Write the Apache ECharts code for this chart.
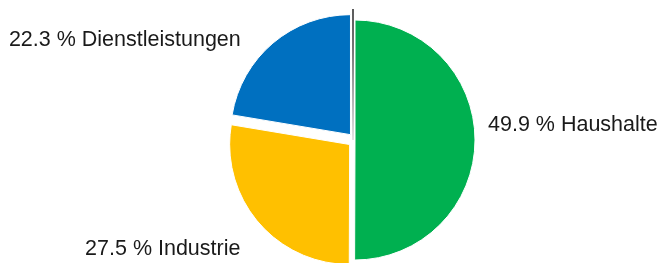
<!DOCTYPE html>
<html>
<head>
<meta charset="utf-8">
<script src="https://cdn.jsdelivr.net/npm/echarts@6/dist/echarts.min.js"></script>
<style>html,body{margin:0;padding:0;background:#fff}#c{width:661px;height:263px}</style>
</head>
<body>
<div id="c"></div>
<script>
const categories = ['Haushalte', 'Industrie', 'Dienstleistungen'];
const values = [49.9, 27.5, 22.3];
const colors = ['#00B050', '#FFC000', '#0070C0'];
const exploded = [false, true, true];
// label layout tuning per slice (line lengths, nudges)
const labelLen = [4, 36, 8];
const labelLen2 = [9, 12, 22];
const labelDx = [0, 22, -5];
const labelDy = [-15, 4, 3];

const chart = echarts.init(document.getElementById('c'), null, {renderer: 'canvas'});
const data = categories.map((name, i) => ({
  name: name,
  value: values[i],
  selected: exploded[i],
  itemStyle: {color: colors[i]},
  labelLine: {length: labelLen[i], length2: labelLen2[i]}
}));
chart.setOption({
  animation: false,
  series: [{
    type: 'pie',
    center: [355, 140],
    radius: [0, 120],
    startAngle: 90,
    clockwise: true,
    avoidLabelOverlap: false,
    selectedMode: 'multiple',
    selectedOffset: 7,
    itemStyle: {borderColor: '#fff', borderWidth: 1},
    select: {itemStyle: {borderColor: '#fff', borderWidth: 1}},
    emphasis: {disabled: true},
    label: {
      show: true,
      position: 'outside',
      formatter: p => p.value.toFixed(1) + ' % ' + p.name,
      fontFamily: 'Liberation Sans, Arial, sans-serif',
      fontSize: 21.5,
      color: '#1a1a1a',
      distanceToLabelLine: 0
    },
    labelLine: {show: false},
    labelLayout: function (params) {
      return {dx: labelDx[params.dataIndex], dy: labelDy[params.dataIndex]};
    },
    data: data
  }],
  graphic: [{
    type: 'line',
    shape: {x1: 353, y1: 9, x2: 353, y2: 140},
    style: {
      lineWidth: 1.5,
      stroke: {type: 'linear', x: 0, y: 0, x2: 0, y2: 1, colorStops: [
        {offset: 0, color: '#222'}, {offset: 0.3, color: '#444'}, {offset: 1, color: '#ddd'}
      ]}
    },
    z: 10
  }]
});
</script>
</body>
</html>
